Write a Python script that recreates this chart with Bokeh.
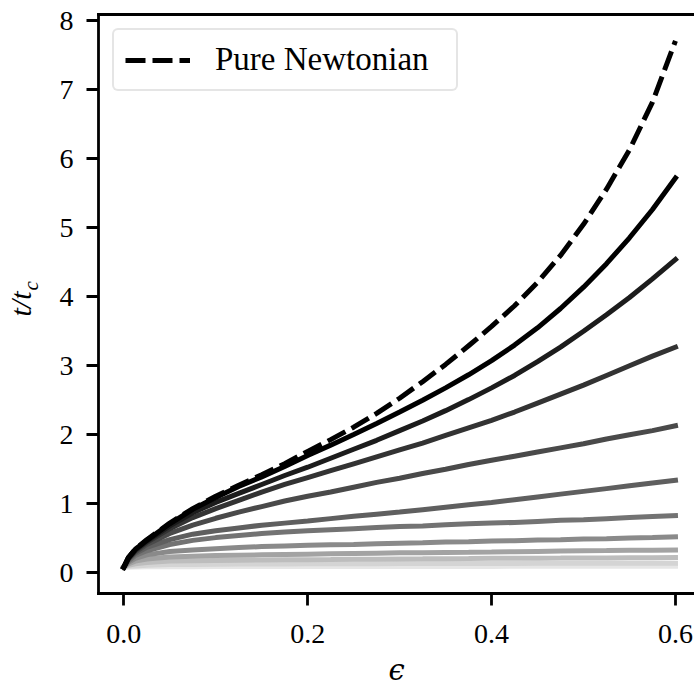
import numpy as np
from bokeh.plotting import figure
from bokeh.models import (Range1d, FixedTicker, PrintfTickFormatter, LinearAxis,
                          Legend, LegendItem)
from bokeh.embed import file_html
from bokeh.resources import INLINE

# ---------------- data ----------------
eps = [0, 0.005, 0.0125, 0.025, 0.05, 0.075, 0.1, 0.125, 0.15, 0.175, 0.2,
       0.225, 0.25, 0.275, 0.3, 0.325, 0.35, 0.375, 0.4, 0.425, 0.45, 0.475,
       0.5, 0.525, 0.55, 0.575, 0.6]

pure_newtonian = [0.08, 0.22, 0.34, 0.48, 0.72, 0.93, 1.11, 1.27, 1.42, 1.58, 1.76,
                  1.93, 2.11, 2.31, 2.53, 2.77, 3.02, 3.29, 3.57, 3.87, 4.21, 4.60,
                  5.05, 5.56, 6.13, 6.82, 7.71]

curve_1 = [0.08, 0.22, 0.34, 0.47, 0.71, 0.92, 1.09, 1.25, 1.39, 1.54, 1.70,
           1.85, 2.005, 2.165, 2.33, 2.50, 2.68, 2.87, 3.075, 3.30, 3.55, 3.83,
           4.14, 4.48, 4.855, 5.265, 5.72]
curve_2 = [0.08, 0.21, 0.33, 0.46, 0.68, 0.87, 1.02, 1.15, 1.28, 1.41, 1.53,
           1.66, 1.79, 1.92, 2.06, 2.20, 2.35, 2.51, 2.68, 2.86, 3.06, 3.27,
           3.50, 3.74, 3.99, 4.26, 4.54]
curve_3 = [0.08, 0.21, 0.32, 0.44, 0.64, 0.80, 0.93, 1.05, 1.17, 1.28, 1.38,
           1.48, 1.58, 1.68, 1.78, 1.88, 1.99, 2.10, 2.21, 2.33, 2.46, 2.59,
           2.72, 2.86, 3.00, 3.14, 3.27]
curve_4 = [0.08, 0.20, 0.30, 0.41, 0.57, 0.69, 0.79, 0.88, 0.96, 1.04, 1.11,
           1.17, 1.24, 1.31, 1.37, 1.44, 1.50, 1.57, 1.63, 1.69, 1.75, 1.81,
           1.87, 1.94, 2.00, 2.06, 2.13]
curve_5 = [0.08, 0.19, 0.28, 0.37, 0.48, 0.56, 0.61, 0.65, 0.69, 0.72, 0.75,
           0.785, 0.82, 0.85, 0.88, 0.915, 0.95, 0.985, 1.02, 1.06, 1.10, 1.14,
           1.18, 1.22, 1.26, 1.30, 1.34]
curve_6 = [0.08, 0.17, 0.25, 0.32, 0.41, 0.47, 0.51, 0.54, 0.57, 0.59, 0.61,
           0.625, 0.64, 0.655, 0.67, 0.68, 0.695, 0.71, 0.72, 0.73, 0.745, 0.76,
           0.77, 0.785, 0.80, 0.815, 0.83]
curve_7 = [0.08, 0.15, 0.21, 0.26, 0.31, 0.33, 0.35, 0.365, 0.38, 0.39, 0.40,
           0.405, 0.41, 0.42, 0.43, 0.435, 0.445, 0.45, 0.46, 0.465, 0.475, 0.48,
           0.49, 0.495, 0.505, 0.51, 0.52]
curve_8 = [0.08, 0.13, 0.17, 0.20, 0.23, 0.24, 0.25, 0.255, 0.26, 0.265, 0.27,
           0.275, 0.28, 0.285, 0.29, 0.292, 0.295, 0.297, 0.30, 0.305, 0.31, 0.315,
           0.32, 0.322, 0.325, 0.327, 0.33]
curve_9 = [0.08, 0.11, 0.13, 0.15, 0.17, 0.175, 0.18, 0.183, 0.185, 0.188, 0.19,
           0.192, 0.195, 0.197, 0.20, 0.202, 0.205, 0.207, 0.21, 0.211, 0.212, 0.213,
           0.215, 0.216, 0.217, 0.218, 0.22]
curve_10 = [0.08, 0.095, 0.10, 0.11, 0.12, 0.122, 0.125, 0.126, 0.127, 0.128, 0.13,
            0.131, 0.132, 0.132, 0.133, 0.134, 0.134, 0.135, 0.135, 0.136, 0.137, 0.137,
            0.138, 0.138, 0.139, 0.139, 0.14]
curve_11 = [0.08, 0.082, 0.084, 0.086, 0.088, 0.089, 0.09, 0.09, 0.091, 0.091, 0.091,
            0.092, 0.092, 0.092, 0.092, 0.093, 0.093, 0.093, 0.093, 0.094, 0.094, 0.094,
            0.094, 0.094, 0.095, 0.095, 0.095]

curves = [curve_1, curve_2, curve_3, curve_4, curve_5, curve_6,
          curve_7, curve_8, curve_9, curve_10, curve_11]
curve_colors = ["#000000", "#1c1c1c", "#333333", "#4a4a4a", "#5f5f5f", "#737373",
                "#8a8a8a", "#a3a3a3", "#bdbdbd", "#d4d4d4", "#e6e6e6"]

x_ticks = [0.0, 0.2, 0.4, 0.6]
y_ticks = [0, 1, 2, 3, 4, 5, 6, 7, 8]
legend_label = "Pure Newtonian"
y_label_main = "t/t"
y_label_sub = "c"
y_label_sub_at = [4.16]
x_label = "\u03f5"

SERIF = "Liberation Serif"

# ---------------- figure ----------------
p = figure(width=694, height=689, output_backend="svg", toolbar_location=None,
           x_range=Range1d(-0.0275, 0.6207), y_range=Range1d(-0.30, 8.091),
           min_border_left=98, min_border_right=0, min_border_top=14,
           min_border_bottom=96)
p.outline_line_color = None
p.xgrid.visible = False
p.ygrid.visible = False
p.background_fill_color = "white"
p.border_fill_color = "white"

xa = p.below[0]
ya = p.left[0]
for ax in (xa, ya):
    ax.axis_line_width = 2.8
    ax.axis_line_color = "black"
    ax.axis_line_cap = "square"
    ax.major_tick_line_width = 2.8
    ax.major_tick_line_color = "black"
    ax.major_tick_out = 12
    ax.major_tick_in = 0
    ax.minor_tick_out = 0
    ax.minor_tick_in = 0
    ax.major_label_text_font = SERIF
    ax.major_label_text_font_size = "28px"
    ax.major_label_text_color = "black"

xa.ticker = FixedTicker(ticks=x_ticks)
xa.formatter = PrintfTickFormatter(format="%.1f")
xa.major_label_standoff = 19
xa.axis_label = x_label
xa.axis_label_text_font = "DejaVu Serif"
xa.axis_label_text_font_style = "italic"
xa.axis_label_text_font_size = "29px"
xa.axis_label_text_color = "black"
xa.axis_label_text_line_height = 0.8
xa.axis_label_standoff = 7

ya.ticker = FixedTicker(ticks=y_ticks)
ya.formatter = PrintfTickFormatter(format="%d")
ya.major_label_standoff = 13

# outer left axis carrying the y label "t/t" and its subscript "c"
yl = LinearAxis(ticker=FixedTicker(ticks=y_label_sub_at),
                formatter=PrintfTickFormatter(format=y_label_sub),
                major_label_orientation="parallel",
                major_label_text_font=SERIF, major_label_text_font_style="italic",
                major_label_text_font_size="21px", major_label_text_color="black",
                major_label_standoff=13,
                axis_line_color=None, major_tick_line_color=None,
                major_tick_out=0, major_tick_in=0, minor_tick_out=0, minor_tick_in=0,
                axis_label=y_label_main, axis_label_text_font=SERIF,
                axis_label_text_font_style="italic", axis_label_text_font_size="30px",
                axis_label_text_color="black", axis_label_standoff=-20)
p.add_layout(yl, "left")

top = LinearAxis(ticker=FixedTicker(ticks=[]), major_label_text_font_size="0px",
                 major_tick_out=0, major_tick_in=0, minor_tick_out=0, minor_tick_in=0,
                 axis_line_width=2.8, axis_line_color="black", axis_line_cap="square",
                 major_label_standoff=0)
p.add_layout(top, "above")

# ---------------- curves ----------------
for ys, col in reversed(list(zip(curves, curve_colors))):
    p.line(eps, ys, line_color=col, line_width=5, line_cap="square")

r_dash = p.line(eps, pure_newtonian, line_color="black", line_width=5,
                line_dash="20 7", line_cap="butt")

legend = Legend(items=[LegendItem(label=legend_label, renderers=[r_dash])],
                location="top_left", margin=14, padding=11, spacing=0,
                glyph_width=65, glyph_height=30, label_standoff=25,
                label_width=230, label_height=34,
                label_text_font=SERIF, label_text_font_size="33px",
                label_text_color="black",
                border_line_color="#cccccc", border_line_width=2,
                background_fill_color="white", background_fill_alpha=1.0)
if "border_radius" in Legend.properties():
    legend.border_radius = 6
p.add_layout(legend)

open("out.html", "w").write(file_html(p, INLINE))
